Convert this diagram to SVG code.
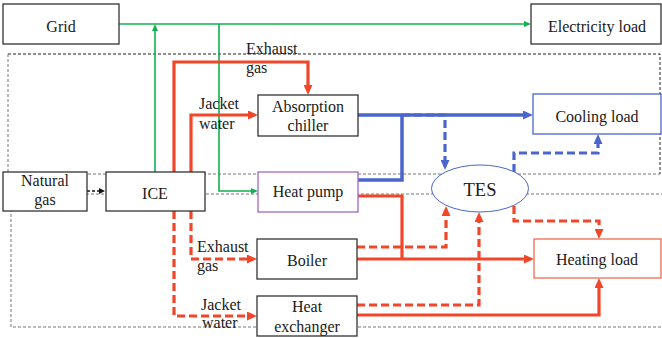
<svg xmlns="http://www.w3.org/2000/svg" width="662" height="338" viewBox="0 0 662 338" font-family="Liberation Serif, Times New Roman, serif">
<defs>
<style>
text{font-size:16px;fill:#1a1a1a}
.box{fill:#fff;stroke:#333;stroke-width:1.3}
.bnd{fill:none;stroke:#777;stroke-width:1;stroke-dasharray:3,2}
.bndk{fill:none;stroke:#222;stroke-width:1;stroke-dasharray:3,2}
.g{fill:none;stroke:#10b050;stroke-width:1.6}
.r{fill:none;stroke:#f2462a;stroke-width:3.2}
.rd{fill:none;stroke:#f2462a;stroke-width:3.2;stroke-dasharray:8,4}
.b{fill:none;stroke:#4a66cc;stroke-width:3.5}
.bd{fill:none;stroke:#4a66cc;stroke-width:3.2;stroke-dasharray:8,4}
</style>
<marker id="ar" markerUnits="userSpaceOnUse" markerWidth="10" markerHeight="9" refX="2" refY="4.5" orient="auto"><path d="M0,0 L10,4.5 L0,9 z" fill="#f2462a"/></marker>
<marker id="ab" markerUnits="userSpaceOnUse" markerWidth="10" markerHeight="9" refX="2" refY="4.5" orient="auto"><path d="M0,0 L10,4.5 L0,9 z" fill="#4a66cc"/></marker>
<marker id="ag" markerUnits="userSpaceOnUse" markerWidth="7" markerHeight="6" refX="1" refY="3" orient="auto"><path d="M0,0 L7,3 L0,6 z" fill="#10b050"/></marker>
<marker id="ak" markerUnits="userSpaceOnUse" markerWidth="6" markerHeight="6" refX="0" refY="3" orient="auto"><path d="M0,0 L6,3 L0,6 z" fill="#111"/></marker>
</defs>
<rect width="662" height="338" fill="#fff"/>
<g id="boundaries">
<path class="bndk" d="M8,54 H660 V174"/>
<path class="bnd" d="M8,54 V174 H660"/>
<path class="bnd" d="M11,194 H662 M11,194 V327 H662"/>
</g>
<g id="connectors">
<path class="g" d="M119,24 H525" marker-end="url(#ag)"/>
<path class="g" d="M155,172 V30" marker-end="url(#ag)"/>
<path class="g" d="M219,24 V191 H252" marker-end="url(#ag)"/>
<path d="M87,191 H99" fill="none" stroke="#111" stroke-width="1.3" stroke-dasharray="3,2" marker-end="url(#ak)"/>
<path class="r" d="M174,172 V62 H308 V87" marker-end="url(#ar)"/>
<path class="r" d="M191,172 V115 H250" marker-end="url(#ar)"/>
<path class="rd" d="M191,211 V259 H249" marker-end="url(#ar)"/>
<path class="rd" d="M174,211 V316 H249" marker-end="url(#ar)"/>
<path class="r" d="M358,196 H402 V259"/>
<path class="r" d="M357,259 H526" marker-end="url(#ar)"/>
<path class="r" d="M357,315 H599 V286" marker-end="url(#ar)"/>
<path class="rd" d="M357,247 H446 V214" marker-end="url(#ar)"/>
<path class="rd" d="M357,305 H479 V220" marker-end="url(#ar)"/>
<path class="rd" d="M514,206 V221 H599 V231" marker-end="url(#ar)"/>
<path class="b" d="M358,180 H402 V115"/>
<path class="b" d="M358,115 H525" marker-end="url(#ab)"/>
<path class="bd" d="M402,115 H445 V162" marker-end="url(#ab)"/>
<path class="bd" d="M514,172 V153 H598 V142" marker-end="url(#ab)"/>
</g>
<g id="grid"><rect class="box" x="3" y="4" width="116" height="40"/><text x="61" y="32" text-anchor="middle">Grid</text></g>
<g id="electricity-load"><rect class="box" x="531" y="4" width="130" height="40"/><text x="597" y="32" text-anchor="middle">Electricity load</text></g>
<g id="natural-gas"><rect class="box" x="3" y="172" width="84" height="39"/><text x="45" y="186" text-anchor="middle">Natural</text><text x="45" y="205" text-anchor="middle">gas</text></g>
<g id="ice"><rect class="box" x="106" y="172" width="99" height="39"/><text x="155" y="199" text-anchor="middle">ICE</text></g>
<g id="absorption-chiller"><rect class="box" x="258" y="95" width="100" height="41"/><text x="308" y="112" text-anchor="middle">Absorption</text><text x="308" y="131" text-anchor="middle">chiller</text></g>
<g id="heat-pump"><rect class="box" x="258" y="172" width="100" height="40" style="stroke:#a068c8"/><text x="308" y="197" text-anchor="middle">Heat pump</text></g>
<g id="boiler"><rect class="box" x="257" y="239" width="100" height="40"/><text x="307" y="266" text-anchor="middle">Boiler</text></g>
<g id="heat-exchanger"><rect class="box" x="257" y="296" width="100" height="40"/><text x="307" y="312" text-anchor="middle">Heat</text><text x="307" y="332" text-anchor="middle">exchanger</text></g>
<g id="cooling-load"><rect class="box" x="533" y="94" width="128" height="40" style="stroke:#4a66cc"/><text x="597" y="122" text-anchor="middle">Cooling load</text></g>
<g id="heating-load"><rect class="box" x="534" y="239" width="127" height="39" style="stroke:#f06a50"/><text x="597" y="265" text-anchor="middle">Heating load</text></g>
<g id="tes"><ellipse cx="480" cy="188.5" rx="48.5" ry="23.5" fill="#fff" stroke="#4a66cc" stroke-width="1"/><text x="480" y="196" text-anchor="middle" style="font-size:18.5px">TES</text></g>
<g id="labels">
<text x="246" y="54">Exhaust</text><text x="246" y="73">gas</text>
<text x="199" y="109">Jacket</text><text x="199" y="129">water</text>
<text x="197" y="252">Exhaust</text><text x="197" y="271">gas</text>
<text x="201" y="310">Jacket</text><text x="202" y="328">water</text>
</g>
</svg>
